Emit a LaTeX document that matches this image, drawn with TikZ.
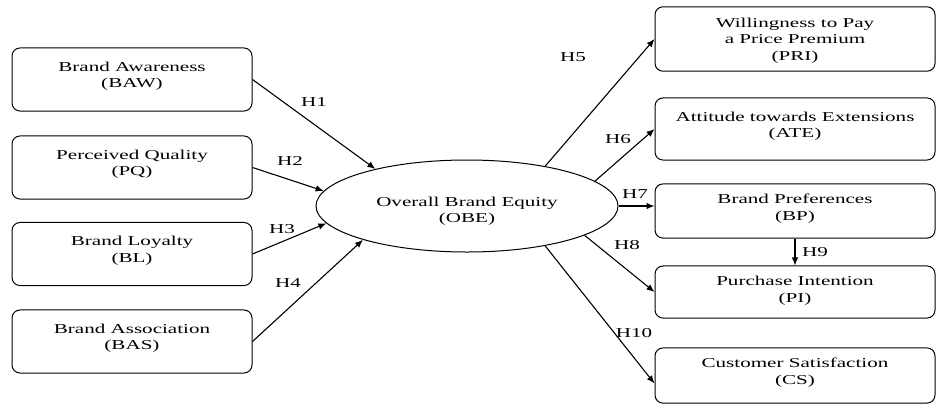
\documentclass[tikz,border=0pt]{standalone}
\usepackage{fontspec}
\setmainfont{Liberation Serif}[FakeStretch=1.55]
\usetikzlibrary{arrows.meta,shapes.geometric}
\newcommand{\befont}{\fontsize{13.6}{16.5}\selectfont}
\tikzset{
  be box/.style={draw, line width=1pt, rounded corners=8pt, align=center, font=\befont,
    minimum width=240pt, inner ysep=13.6pt, text depth=9.9pt},
  be lowbox/.style={be box, minimum width=280pt, inner ysep=10.1pt, text depth=7.9pt},
  be core/.style={ellipse, draw, line width=1pt, minimum width=302pt, minimum height=92pt,
    inner sep=0pt, align=center, font=\befont, text height=36pt},
  be arrow/.style={line width=1.1pt, -{Latex[length=8pt,width=6.5pt]}},
  be label/.style={font=\befont, inner sep=1pt},
}

\begin{document}
\begin{tikzpicture}[x=1pt,y=-1pt]
  \useasboundingbox (0,0) rectangle (936,405);
  % antecedents
  \node[be box] (baw) at (132,79.5) {Brand Awareness\\(BAW)};
  \node[be box] (pq) at (132,167.5) {Perceived Quality\\(PQ)};
  \node[be box] (bl) at (132,254) {Brand Loyalty\\(BL)};
  \node[be box] (bas) at (132,341.5) {Brand Association\\(BAS)};
  % core construct
  \node[be core] (obe) at (467,206) {Overall Brand Equity\\(OBE)};
  % outcomes
  \node[be box, minimum width=280pt, inner ysep=11pt, text depth=0pt] (pri) at (795,39) {Willingness to Pay\\a Price Premium\\(PRI)};
  \node[be box, minimum width=280pt, text depth=8.9pt] (ate) at (795,129) {Attitude towards Extensions\\(ATE)};
  \node[be lowbox] (bp) at (795,211) {Brand Preferences\\(BP)};
  \node[be lowbox, text depth=5.9pt] (pi) at (795,292) {Purchase Intention\\(PI)};
  \node[be lowbox, text depth=8.9pt] (cs) at (795,375.5) {Customer Satisfaction\\(CS)};

  \draw[be arrow] (baw.east) -- (obe.158);
  \draw[be arrow] (pq.east) -- (obe.174);
  \draw[be arrow] (bl.east) -- (obe.187);
  \draw[be arrow] (bas.east) -- (obe.198);
  \draw[be arrow] (obe.27) -- (pri.west);
  \draw[be arrow] (obe.11) -- (ate.west);
  \draw[be arrow] (obe.east) -- (obe.east -| bp.west);
  \draw[be arrow] (obe.-14) -- (pi.west);
  \draw[be arrow] (obe.-27) -- ([yshift=-8pt]cs.west);
  \draw[be arrow] (bp.south) -- (pi.north);

  \node[be label] (h1) at (314,102) {H1};
  \node[be label] (h2) at (290,161) {H2};
  \node[be label] (h3) at (282,229) {H3};
  \node[be label] (h4) at (288,283) {H4};
  \node[be label] (h5) at (573,57) {H5};
  \node[be label] (h6) at (618,139) {H6};
  \node[be label] (h7) at (635,194) {H7};
  \node[be label] (h8) at (627,245) {H8};
  \node[be label] (h9) at (815,252) {H9};
  \node[be label] (h10) at (634,333) {H10};
\end{tikzpicture}
\end{document}
